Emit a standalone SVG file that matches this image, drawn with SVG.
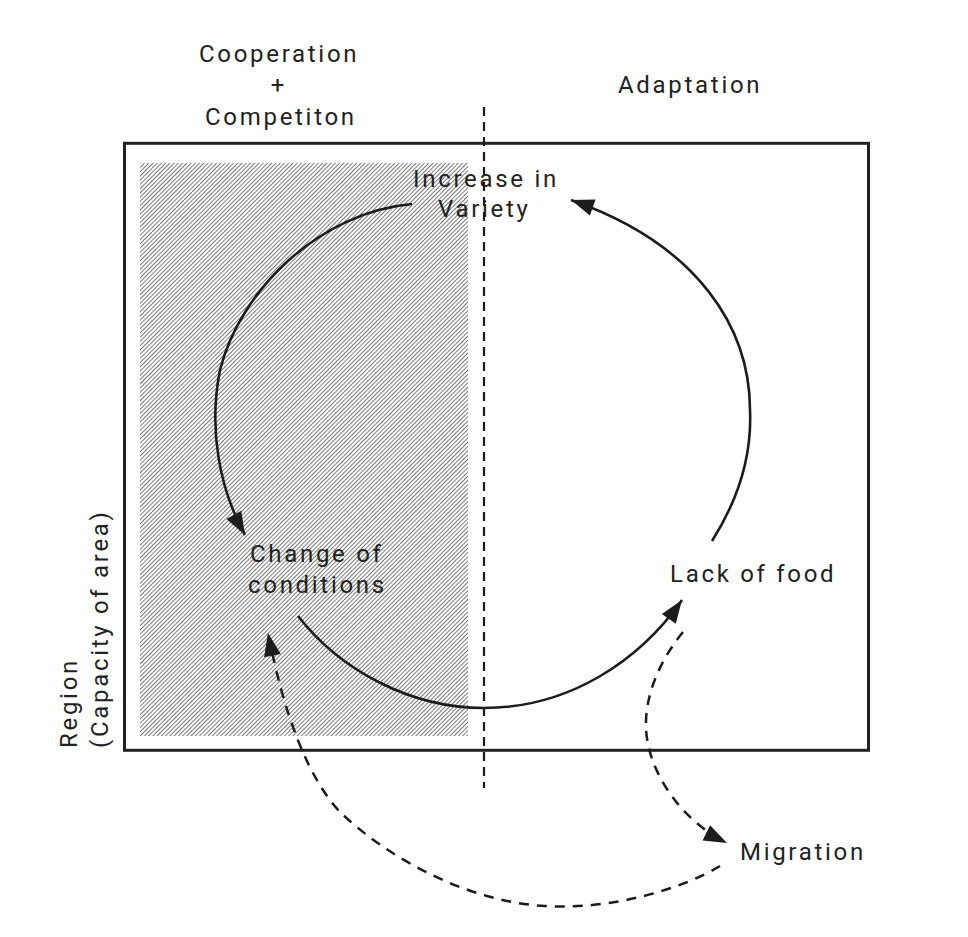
<svg xmlns="http://www.w3.org/2000/svg" width="968" height="937" viewBox="0 0 968 937">
  <style>
    .lbl { font-family: Roboto, "Liberation Sans", sans-serif; font-size: 24px; font-weight: 400; letter-spacing: 2.7px; fill: #222; }
    .solid { fill: none; stroke: #1c1c1c; stroke-width: 2.6; }
    .dash { fill: none; stroke: #1c1c1c; stroke-width: 2.5; stroke-dasharray: 10 8; }
    .divider { fill: none; stroke: #1c1c1c; stroke-width: 2.2; stroke-dasharray: 9 6; }
  </style>
  <defs>
    <pattern id="hatch" width="3" height="3" patternUnits="userSpaceOnUse" patternTransform="rotate(45)">
      <line x1="1.5" y1="0" x2="1.5" y2="3" stroke="#6a6a6a" stroke-width="0.9"/>
    </pattern>
    <marker id="arrow" markerUnits="userSpaceOnUse" markerWidth="26" markerHeight="18" refX="23" refY="8.5" orient="auto" overflow="visible">
      <path d="M0,0 L23,8.5 L0,17 Z" fill="#1c1c1c"/>
    </marker>
  </defs>
  <rect width="968" height="937" fill="#fff"/>

  <g id="region">
    <rect x="140" y="163" width="328" height="573" fill="url(#hatch)"/>
    <rect x="124.5" y="143.3" width="744" height="607" fill="none" stroke="#222" stroke-width="3"/>
  </g>

  <g id="headers">
    <text class="lbl" x="199" y="62">Cooperation</text>
    <text class="lbl" x="279" y="93" text-anchor="middle">+</text>
    <text class="lbl" x="205" y="125">Competiton</text>
    <text class="lbl" x="618" y="93">Adaptation</text>
  </g>

  <g id="region-label">
    <text class="lbl" transform="translate(77,748) rotate(-90)">Region</text>
    <text class="lbl" transform="translate(108,748) rotate(-90)">(Capacity of area)</text>
  </g>

  <g id="node-increase">
    <text class="lbl" x="413" y="187">Increase in</text>
    <text class="lbl" x="438" y="217">Variety</text>
  </g>
  <g id="node-change">
    <text class="lbl" x="250" y="562">Change of</text>
    <text class="lbl" x="248" y="593">conditions</text>
  </g>
  <g id="node-lack">
    <text class="lbl" x="670" y="582">Lack of food</text>
  </g>
  <g id="node-migration">
    <text class="lbl" x="740" y="860">Migration</text>
  </g>

  <g id="connectors">
    <line class="divider" x1="484" y1="107" x2="484" y2="788"/>
    <path class="solid" d="M 412 204 C 320 212, 240 290, 220 370 C 208 430, 220 490, 245 535" marker-end="url(#arrow)"/>
    <path class="solid" d="M 298 616 C 340 670, 410 708, 484 708 C 570 708, 640 660, 682 600" marker-end="url(#arrow)"/>
    <path class="solid" d="M 712 541 C 738 500, 752 455, 750 410 C 750 330, 700 245, 571 200" marker-end="url(#arrow)"/>
    <path class="dash" d="M 683 632 C 660 660, 645 695, 646 727 C 647 770, 680 820, 727 843" marker-end="url(#arrow)"/>
    <path class="dash" d="M 720 866 C 680 890, 610 910, 545 906 C 470 902, 390 860, 340 812 C 310 780, 285 720, 268 633" marker-end="url(#arrow)"/>
  </g>
</svg>
